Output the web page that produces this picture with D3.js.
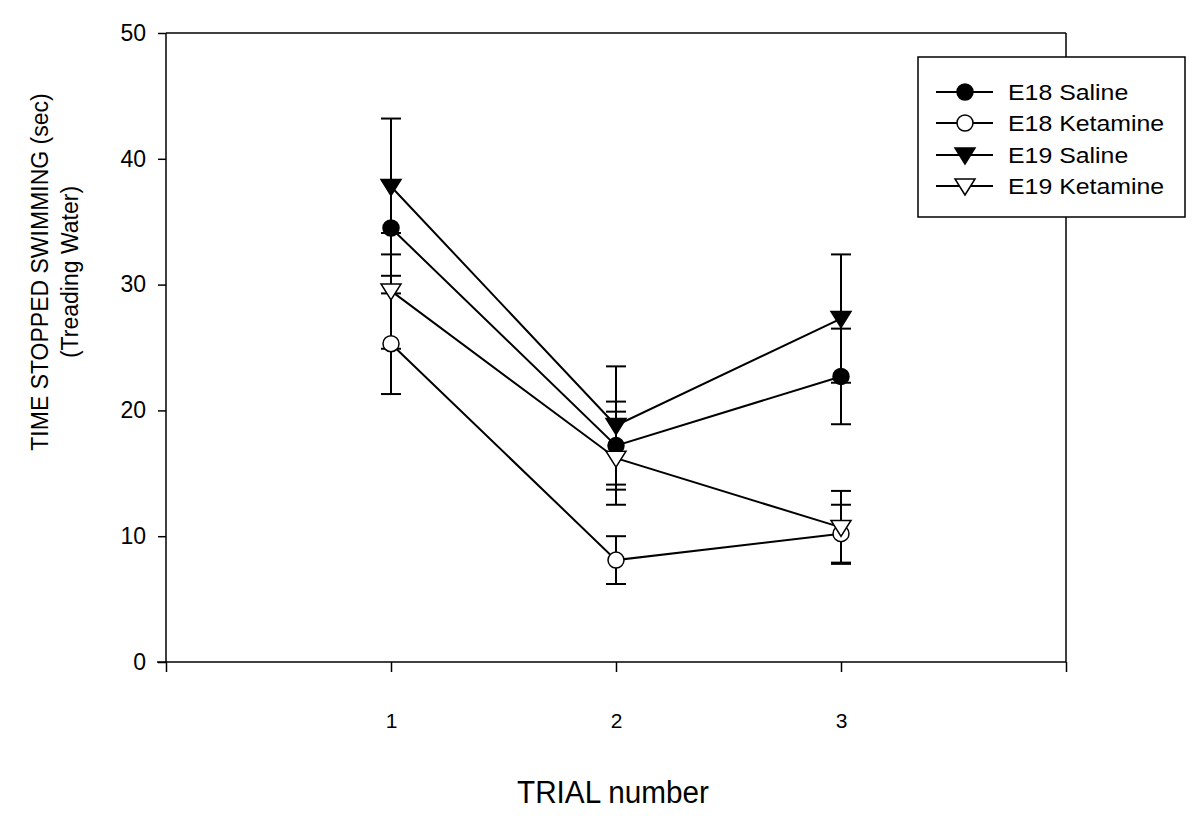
<!DOCTYPE html>
<html><head><meta charset="utf-8">
<script src="https://cdn.jsdelivr.net/npm/d3@7"></script>
<style>body{margin:0;background:#fff;} svg{display:block;font-family:"Liberation Sans",Arial,sans-serif;}</style>
</head><body>
<svg id="c" width="1200" height="831"></svg>
<script>
const trials = [1, 2, 3];
const yTicks = [0, 10, 20, 30, 40, 50];
const seriesNames = ["E18 Saline", "E18 Ketamine", "E19 Saline", "E19 Ketamine"];
const e18Saline = [34.5, 17.2, 22.7];
const e18SalineErr = [3.8, 3.5, 3.8];
const e18Ketamine = [25.3, 8.1, 10.2];
const e18KetamineErr = [4.0, 1.9, 2.3];
const e19Saline = [37.8, 18.8, 27.3];
const e19SalineErr = [5.4, 4.7, 5.1];
const e19Ketamine = [29.5, 16.2, 10.7];
const e19KetamineErr = [4.6, 3.7, 2.9];

const series = [
  {name: seriesNames[0], vals: e18Saline, err: e18SalineErr, shape: "circle", fill: "#000"},
  {name: seriesNames[1], vals: e18Ketamine, err: e18KetamineErr, shape: "circle", fill: "#fff"},
  {name: seriesNames[2], vals: e19Saline, err: e19SalineErr, shape: "tri", fill: "#000"},
  {name: seriesNames[3], vals: e19Ketamine, err: e19KetamineErr, shape: "tri", fill: "#fff"}
];

const svg = d3.select("#c");
const L = 166, R = 1066, T = 33, B = 662;
const x = d3.scaleLinear().domain([0, 4]).range([L, R]);
const y = d3.scaleLinear().domain([0, 50]).range([B, T]);

// frame top/right
svg.append("line").attr("x1", L).attr("x2", R).attr("y1", T).attr("y2", T).attr("stroke", "#000").attr("stroke-width", 1.5);
svg.append("line").attr("x1", R).attr("x2", R).attr("y1", T).attr("y2", B).attr("stroke", "#000").attr("stroke-width", 1.5);

// y axis
const ya = svg.append("g").attr("transform", `translate(${L},0)`)
  .call(d3.axisLeft(y).tickValues(yTicks).tickSize(8).tickPadding(12).tickFormat(d3.format("d")));
ya.select(".domain").attr("stroke-width", 1.5).attr("d", `M0,${T}V${B}`);
ya.selectAll(".tick line").attr("stroke-width", 1.5);
ya.selectAll(".tick text").attr("font-size", 23).attr("font-family", "Liberation Sans, Arial, sans-serif").attr("fill", "#000");

// x axis
const xa = svg.append("g").attr("transform", `translate(0,${B})`)
  .call(d3.axisBottom(x).tickValues([0, 1, 2, 3, 4]).tickSize(10).tickPadding(41)
    .tickFormat(d => trials.includes(d) ? String(d) : ""));
xa.select(".domain").attr("stroke-width", 1.5).attr("d", `M${L - 9},0H${R}`);
xa.selectAll(".tick line").attr("stroke-width", 1.5);
xa.selectAll(".tick text").attr("font-size", 21).attr("font-family", "Liberation Sans, Arial, sans-serif").attr("fill", "#000");

// axis titles
svg.append("text").attr("x", 613).attr("y", 803).attr("text-anchor", "middle")
  .attr("font-size", 31).attr("textLength", 192).attr("lengthAdjust", "spacingAndGlyphs").text("TRIAL number");
const yt = svg.append("text").attr("transform", "translate(48,272) rotate(-90)").attr("text-anchor", "middle").attr("font-size", 23);
yt.append("tspan").attr("x", 0).attr("y", 0).text("TIME STOPPED SWIMMING (sec)");
yt.append("tspan").attr("x", 0).attr("y", 30).text("(Treading Water)");

const triPath = "M-10,-7L10,-7L0,9Z";
function drawMarker(g, s) {
  if (s.shape === "circle") {
    g.append("circle").attr("r", 8).attr("fill", s.fill).attr("stroke", "#000").attr("stroke-width", 1.5);
  } else {
    g.append("path").attr("d", triPath).attr("fill", s.fill).attr("stroke", "#000").attr("stroke-width", 1.5);
  }
}

const plot = svg.append("g");
// error bars
series.forEach(s => {
  s.vals.forEach((v, i) => {
    const cx = x(trials[i]);
    const g = plot.append("g").attr("stroke", "#000").attr("stroke-width", 2);
    g.append("line").attr("x1", cx).attr("x2", cx).attr("y1", y(v - s.err[i])).attr("y2", y(v + s.err[i]));
    [v - s.err[i], v + s.err[i]].forEach(e => {
      g.append("line").attr("x1", cx - 10).attr("x2", cx + 10).attr("y1", y(e)).attr("y2", y(e));
    });
  });
});
// lines
const line = d3.line().x((d, i) => x(trials[i])).y(d => y(d));
series.forEach(s => {
  plot.append("path").attr("d", line(s.vals)).attr("fill", "none").attr("stroke", "#000").attr("stroke-width", 2);
});
// markers
series.forEach(s => {
  s.vals.forEach((v, i) => {
    drawMarker(plot.append("g").attr("transform", `translate(${x(trials[i])},${y(v)})`), s);
  });
});

// legend
const lg = svg.append("g");
lg.append("rect").attr("x", 918).attr("y", 57).attr("width", 267).attr("height", 160)
  .attr("fill", "#fff").attr("stroke", "#000").attr("stroke-width", 1.5);
const ly = [92, 123, 155, 186];
series.forEach((s, i) => {
  lg.append("line").attr("x1", 936).attr("x2", 993).attr("y1", ly[i]).attr("y2", ly[i]).attr("stroke", "#000").attr("stroke-width", 2);
  drawMarker(lg.append("g").attr("transform", `translate(965,${ly[i]})`), s);
  lg.append("text").attr("transform", `translate(1008,${ly[i] + 8}) scale(1.13,1)`).attr("font-size", 22).text(s.name);
});
</script>
</body></html>
